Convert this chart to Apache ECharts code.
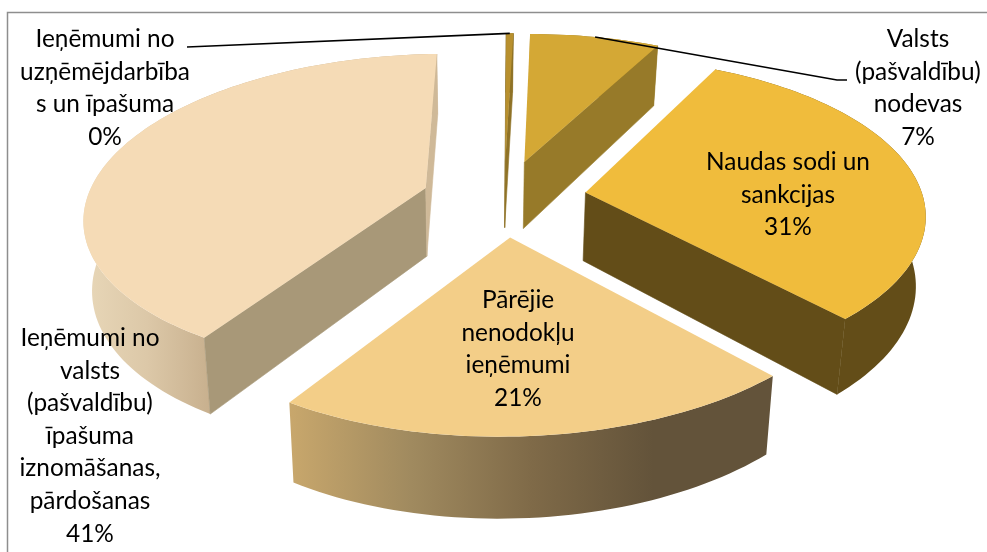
<!DOCTYPE html>
<html>
<head>
<meta charset="utf-8">
<script src="https://cdn.jsdelivr.net/npm/echarts@6/dist/echarts.min.js"></script>
<style>
  html, body { margin: 0; padding: 0; background: #fff; }
  #chart { width: 987px; height: 552px; }
</style>
</head>
<body>
<div id="chart"></div>
<script>
// slice order follows the original: clockwise from 12 o'clock
const categories = [
  'Valsts\n(pašvaldību)\nnodevas',
  'Naudas sodi un\nsankcijas',
  'Pārējie\nnenodokļu\nieņēmumi',
  'Ieņēmumi no\nvalsts\n(pašvaldību)\nīpašuma\niznomāšanas,\npārdošanas',
  'Ieņēmumi no\nuzņēmējdarbība\ns un īpašuma'
]
const shares = [7.3, 30.7, 20.8, 40.8, 0.4]
const leaderSlices = [0, 4]

const topColors = ['#d4a835', '#f0bc3c', '#f3ce88', '#f5dbb6', '#b8902e']
const faceColors = ['#977a29', '#634d18', '#634d18', '#a89878', '#8f7226']
const endFaceColors = ['#977a29', '#634d18', '#634d18', '#cfb998', '#8f7226']
const wallStops = [
  ['#977a29', '#977a29'],
  ['#634d18', '#634d18'],
  ['#c8a76c', '#a08a5f', '#7f6a48', '#63533a', '#63533a'],
  ['#e8d7b8', '#dcc8a8', '#c8b08e'],
  ['#8f7226', '#8f7226']
]
const wallRange = [[520, 660], [580, 930], [290, 774], [84, 210], [500, 515]]
const labelCenters = [[918, 88], [788, 195], [518, 349], [90, 436], [105, 88]]

// perspective of the tilted disc, fitted to the picture
const view = {
  cx: 504, rx: 338, vx: 570, vy: -861, b: 1059, k: 0.148,
  explode: 0.244, dropBase: 57.5, dropRate: 0.056, pinchX: 477, pinch: 0.978
}

function projectTop(X, Y) {
  const w = 1 - view.k * Y
  return [view.vx + (view.cx + X * view.rx - view.vx) / w, view.vy + view.b / w]
}

function projectBottom(p) {
  return [view.pinchX + (p[0] - view.pinchX) * view.pinch, p[1] + view.dropBase + view.dropRate * p[1]]
}

function sliceAngles(index) {
  const total = shares.reduce((a, b) => a + b, 0)
  const before = shares.slice(0, index).reduce((a, b) => a + b, 0)
  return [before / total * 360, (before + shares[index]) / total * 360]
}

function rimPoint(index, deg) {
  const [a0, a1] = sliceAngles(index)
  const mid = (a0 + a1) / 2 * Math.PI / 180
  const a = deg * Math.PI / 180
  return projectTop(view.explode * Math.sin(mid) + Math.sin(a), -view.explode * Math.cos(mid) - Math.cos(a))
}

function apexPoint(index) {
  const [a0, a1] = sliceAngles(index)
  const mid = (a0 + a1) / 2 * Math.PI / 180
  return projectTop(view.explode * Math.sin(mid), -view.explode * Math.cos(mid))
}

function cross(o, a, b) {
  return (a[0] - o[0]) * (b[1] - o[1]) - (a[1] - o[1]) * (b[0] - o[0])
}

function renderSlice(params) {
  const i = params.dataIndex
  const [a0, a1] = sliceAngles(i)
  const rim = []
  const steps = Math.max(2, Math.ceil((a1 - a0) / 1.5))
  for (let s = 0; s <= steps; s++) rim.push(rimPoint(i, a0 + (a1 - a0) * s / steps))
  const apex = apexPoint(i)
  const apexLow = projectBottom(apex)
  const rimLow = rim.map(projectBottom)
  const inner = rim[Math.floor(rim.length / 2)]
  const children = []

  const stops = wallStops[i].map((color, n, all) => ({ offset: n / (all.length - 1), color }))
  children.push({
    type: 'polygon',
    shape: { points: rim.concat(rimLow.slice().reverse()) },
    style: {
      fill: { type: 'linear', x: wallRange[i][0], y: 0, x2: wallRange[i][1], y2: 0, global: true, colorStops: stops }
    }
  })

  // only the cut faces turned toward the viewer get drawn
  const ends = [[rim[0], rimLow[0], faceColors[i]], [rim[rim.length - 1], rimLow[rim.length - 1], endFaceColors[i]]]
  ends.forEach(([outer, outerLow, color]) => {
    const facing = cross(apex, outer, apexLow) * cross(apex, outer, inner) < 0
    if (facing) {
      children.push({
        type: 'polygon',
        shape: { points: [apex, outer, outerLow, apexLow] },
        style: { fill: color, stroke: color, lineWidth: 0.6 }
      })
    }
  })

  children.push({ type: 'polygon', shape: { points: [apex].concat(rim) }, style: { fill: topColors[i] } })

  children.push({
    type: 'text',
    z2: 10,
    style: {
      text: categories[i] + '\n' + Math.round(shares[i]) + '%',
      x: labelCenters[i][0],
      y: labelCenters[i][1],
      align: 'center',
      verticalAlign: 'middle',
      fill: '#000',
      font: '24.4px Lato',
      lineHeight: 32.6
    }
  })

  return { type: 'group', children }
}

// leader lines run from the rim of the two outer-labelled slices to their text
function renderLeaders(params) {
  const i = leaderSlices[params.dataIndex]
  const [a0, a1] = sliceAngles(i)
  const start = rimPoint(i, (a0 + a1) / 2)
  const points = i === 0 ? [start, [837, 80], [847, 80]] : [start, [187, 47]]
  return {
    type: 'polyline',
    shape: { points },
    style: { stroke: '#000', lineWidth: 1.6, fill: 'none' }
  }
}

const chart = echarts.init(document.getElementById('chart'))
chart.setOption({
  animation: false,
  backgroundColor: '#fff',
  graphic: [{
    type: 'polyline',
    shape: { points: [[7.5, 552], [7.5, 12.5], [987, 12.5]] },
    style: { stroke: '#8e8e8e', lineWidth: 1.5, fill: 'none' },
    silent: true
  }],
  series: [
    {
      type: 'custom',
      coordinateSystem: 'none',
      renderItem: renderSlice,
      data: shares,
      silent: true,
      z: 2
    },
    {
      type: 'custom',
      coordinateSystem: 'none',
      renderItem: renderLeaders,
      data: leaderSlices,
      silent: true,
      z: 3
    }
  ]
})
</script>
</body>
</html>
